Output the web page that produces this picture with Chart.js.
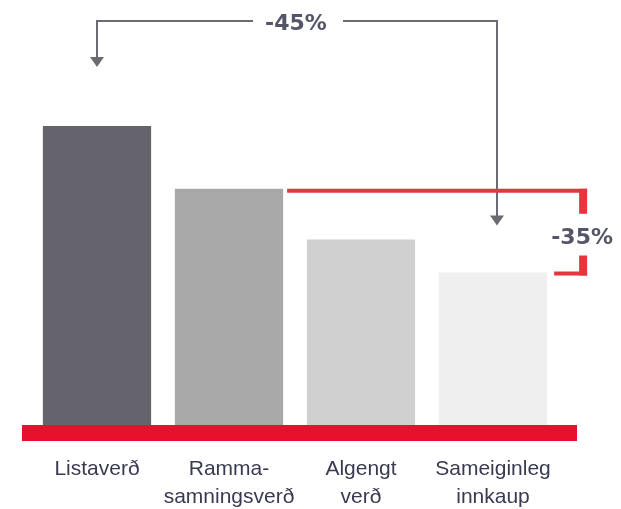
<!DOCTYPE html>
<html>
<head>
<meta charset="utf-8">
<script src="https://cdn.jsdelivr.net/npm/chart.js@4/dist/chart.umd.min.js"></script>
<style>
  html, body { margin: 0; padding: 0; background: #ffffff; }
  #wrap { width: 621px; height: 509px; position: relative; }
</style>
</head>
<body>
<div id="wrap"><canvas id="priceChart"></canvas></div>
<script>
// Chart data
const categories = [['Listaverð'], ['Ramma-', 'samningsverð'], ['Algengt', 'verð'], ['Sameiginleg', 'innkaup']];
const values = [100, 79, 62, 51];
const barColors = ['#65646c', '#a8a8a8', '#d0d0d0', '#efefef'];
const bigDropLabel = '-45%';
const smallDropLabel = '-35%';

const colors = {
    red: '#e8112d',
    bracketRed: '#e8343c',
    arrow: '#6b6b73',
    label: '#3a3a52',
    pct: '#55556a'
};

// Red baseline under the bars
const baselinePlugin = {
    id: 'baseline',
    afterDatasetsDraw(chart) {
        const { ctx, scales: { y }, chartArea } = chart;
        const y0 = y.getPixelForValue(0);
        ctx.save();
        ctx.fillStyle = colors.red;
        ctx.fillRect(chartArea.left - 9, y0, chartArea.right - chartArea.left + 27, 16);
        ctx.restore();
    }
};

const arrowHead = (ctx, x, tipY, color) => {
    ctx.fillStyle = color;
    ctx.beginPath();
    ctx.moveTo(x - 7, tipY - 10);
    ctx.lineTo(x + 7, tipY - 10);
    ctx.lineTo(x, tipY);
    ctx.closePath();
    ctx.fill();
};

// -45% arrow and -35% bracket, anchored on the bar elements
const annotationPlugin = {
    id: 'dropNotes',
    afterDatasetsDraw(chart) {
        const { ctx } = chart;
        const bars = chart.getDatasetMeta(0).data;
        const first = bars[0], second = bars[1], last = bars[3];

        // gray arrow
        const lineY = 21;
        const leftX = first.x;
        const rightX = last.x + 4;
        const midX = (leftX + rightX) / 2;
        ctx.save();
        ctx.strokeStyle = colors.arrow;
        ctx.lineWidth = 2;
        ctx.beginPath();
        ctx.moveTo(leftX, first.y - 66);
        ctx.lineTo(leftX, lineY);
        ctx.lineTo(midX - 44, lineY);
        ctx.moveTo(midX + 46, lineY);
        ctx.lineTo(rightX, lineY);
        ctx.lineTo(rightX, last.y - 52);
        ctx.stroke();
        arrowHead(ctx, leftX, first.y - 59, colors.arrow);
        arrowHead(ctx, rightX, last.y - 47, colors.arrow);

        ctx.fillStyle = colors.pct;
        ctx.font = 'bold 22px "DejaVu Sans"';
        ctx.textAlign = 'center';
        ctx.textBaseline = 'middle';
        ctx.fillText(bigDropLabel, midX - 1, lineY + 3);

        // red bracket
        const topY = second.y + 2;
        const botY = last.y + 1;
        const bx = last.x + last.width / 2 + 36;
        ctx.strokeStyle = colors.bracketRed;
        ctx.lineWidth = 4;
        ctx.beginPath();
        ctx.moveTo(second.x + second.width / 2 + 4, topY);
        ctx.lineTo(bx + 4, topY);
        ctx.moveTo(last.x + last.width / 2 + 7, botY);
        ctx.lineTo(bx + 4, botY);
        ctx.stroke();
        ctx.fillStyle = colors.bracketRed;
        ctx.fillRect(bx - 4, topY - 2, 8, 25);
        ctx.fillRect(bx - 4, botY - 18, 8, 20);

        ctx.fillStyle = colors.pct;
        ctx.fillText(smallDropLabel, bx - 1, (topY + botY) / 2 + 6);
        ctx.restore();
    }
};

new Chart(document.getElementById('priceChart').getContext('2d'), {
    type: 'bar',
    data: {
        labels: categories,
        datasets: [{
            data: values,
            backgroundColor: barColors,
            borderWidth: 0,
            categoryPercentage: 1,
            barPercentage: 0.82
        }]
    },
    options: {
        responsive: true,
        maintainAspectRatio: false,
        animation: false,
        layout: { padding: { top: 126, left: 31, right: 62, bottom: 0 } },
        plugins: {
            legend: { display: false },
            tooltip: { enabled: false }
        },
        scales: {
            x: {
                grid: { display: false, drawTicks: false },
                border: { display: false },
                afterFit: (scale) => { scale.height = 84; },
                ticks: {
                    color: colors.label,
                    padding: 31,
                    autoSkip: false,
                    maxRotation: 0,
                    minRotation: 0,
                    font: { family: 'Liberation Sans', size: 21, lineHeight: 1.3 }
                }
            },
            y: {
                display: false,
                min: 0,
                max: 100
            }
        }
    },
    plugins: [baselinePlugin, annotationPlugin]
});
</script>
</body>
</html>
